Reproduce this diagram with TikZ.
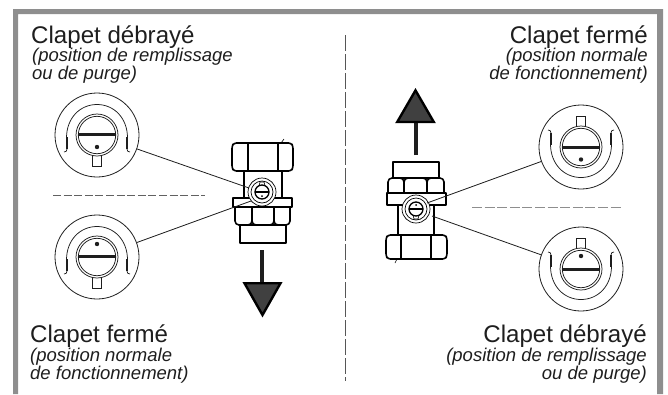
\documentclass[tikz,border=0pt]{standalone}
\usepackage{fontspec}
\setmainfont{Liberation Sans}
\definecolor{framegrey}{HTML}{8E8E8E}
\definecolor{inkc}{HTML}{1E1E1E}
\definecolor{headc}{HTML}{404040}
\tikzset{
  title/.style={inkc,inner sep=0pt,font=\fontsize{24.1}{24}\selectfont},
  sub/.style={inkc,inner sep=0pt,font=\fontsize{18.5}{18}\selectfont\itshape},
  thinl/.style={line width=0.75pt,inkc},
  thickl/.style={line width=1.6pt,black,line join=round},
  leader/.style={line width=0.8pt,inkc},
  sepline/.style={line width=1pt,color=#1},
  dialnode/.style={circle,draw=inkc,line width=0.8pt,minimum size=84pt,inner sep=0pt},
  arrowhead/.style={line width=2.4pt,black,fill=headc,line join=miter},
}
\newcommand{\dialshape}[4]{%
  \begin{scope}[shift={(#1,#2)},rotate=#3]
    \draw[thinl] (-30.5,3) .. controls (-30.5,-17) and (-17,-30.5) .. (0,-30.5)
                 .. controls (17,-30.5) and (30.5,-17) .. (30.5,3);
    \draw[line width=1.8pt,inkc] (-30,2) -- (-30,14);
    \draw[line width=1.8pt,inkc] (30,2) -- (30,14);
    \draw[thinl] (-30,14) .. controls (-30,16) and (-31,17) .. (-33,17);
    \draw[thinl] (30,14) .. controls (30,16) and (31,17) .. (33,17);
    \draw[thinl] (-4.5,20) rectangle (4.5,31);
    \fill[white] (0,0) circle[radius=21pt];
    \draw[thinl] (0,0) circle[radius=21pt];
    \draw[thinl] (0,0) circle[radius=18.7pt];
    \draw[line width=3pt,inkc] (-19,-0.5) -- (19,-0.5);
    \fill[inkc] (0,#4) circle[radius=2.2pt];
  \end{scope}}
\newcommand{\knobshape}[3]{%
  \begin{scope}[shift={(#1,#2)},rotate=#3]
    \fill[white] (0,0) circle[radius=14pt];
    \draw[line width=0.7pt] (0,0) circle[radius=14pt];
    \draw[line width=0.7pt] (0,0) circle[radius=11pt];
    \draw[line width=0.6pt] (-3,6) -- (-2,10) -- (2,10) -- (3,6);
    \draw[line width=1.3pt,fill=white] (0,0) circle[radius=7pt];
    \draw[line width=1.6pt] (-7,0) -- (7,0);
    \fill (0,-4) circle[radius=1pt];
  \end{scope}}
\begin{document}
\begin{tikzpicture}[x=1pt,y=-1pt]
\useasboundingbox (0,0) rectangle (668,394);
\fill[framegrey] (13,394) -- (13,9) -- (663,9) -- (663,394) -- (657,394) -- (657,14) -- (18,14) -- (18,394) -- cycle;

% separators
\draw[sepline=inkc!70!white,dash pattern=on 8pt off 2.6pt] (53,195) -- (205,195);
\draw[sepline=framegrey,dash pattern=on 10pt off 2.6pt] (472,207) -- (622,207);
\draw[line width=0.8pt,color=inkc!75!white,dash pattern=on 16pt off 3pt] (345,35) -- (345,381);

% dials
\node[dialnode] (dA) at (97,135) {};
\node[dialnode] (dB) at (97,257) {};
\node[dialnode] (dC) at (581,147) {};
\node[dialnode] (dD) at (581,269) {};
\dialshape{97}{135}{0}{12}
\dialshape{97}{257}{0}{-13}
\dialshape{581}{147}{180}{-12.5}
\dialshape{581}{269}{180}{13}

% left valve
\draw[thickl] (244,171) -- (244,198) (282,171) -- (282,198);
\draw[thickl,rounded corners=2.5pt,fill=white] (234,143) -- (291,143) -- (293,146) -- (293,168) -- (291,171) -- (234,171) -- (232,168) -- (232,146) -- cycle;
\draw[thickl] (248,143) -- (248,171) (278,143) -- (278,171);
\draw[line width=0.6pt] (281,143) -- (284,139);
\draw[thickl,fill=white] (240,225) rectangle (286,243);
\foreach \a/\b in {235/252,252/274,274/290}
  \draw[thickl,fill=white,rounded corners=4pt] (\a,207) -- (\a,225) -- (\b,225) -- (\b,207);
\draw[thickl,fill=white] (233,198) rectangle (292,207);
\knobshape{262}{192}{180}
\coordinate (kA) at (249,188);
\coordinate (kB) at (251,201);
\draw[leader] (dA) -- (kA);
\draw[leader] (dB) -- (kB);
% left arrow
\coordinate (aLs) at (262,250);
\coordinate (aLe) at (262,283);
\draw[line width=3.8pt,inkc] (aLs) -- (aLe);
\draw[arrowhead] (244.5,283.2) -- (280.5,283.2) -- (262.5,315) -- cycle;

% right valve
\draw[thickl] (398,205) -- (398,235) (434,205) -- (434,235);
\draw[thickl,rounded corners=2.5pt,fill=white] (388,235) -- (445,235) -- (447,238) -- (447,256) -- (445,259) -- (388,259) -- (386,256) -- (386,238) -- cycle;
\draw[thickl] (401,235) -- (401,259) (431,235) -- (431,259);
\draw[line width=0.6pt] (397,259) -- (395,263);
\draw[thickl,fill=white] (393,162) rectangle (439,178);
\foreach \a/\b in {388/404,404/427,427/444}
  \draw[thickl,fill=white,rounded corners=4pt] (\a,193) -- (\a,178) -- (\b,178) -- (\b,193);
\draw[thickl,fill=white] (387,193) rectangle (446,205);
\knobshape{416}{209}{0}
\coordinate (kC) at (427,203);
\coordinate (kD) at (432,216);
\draw[leader] (dC) -- (kC);
\draw[leader] (dD) -- (kD);
% right arrow
\coordinate (aRs) at (416,155);
\coordinate (aRe) at (416,123);
\draw[line width=3.8pt,inkc] (aRs) -- (aRe);
\draw[arrowhead] (397.2,122) -- (433.8,122) -- (415.5,90.4) -- cycle;

% texts
\node[title,anchor=base west] (t1) at (31,43) {Clapet débrayé};
\node[sub,anchor=base west] (t2) at (32,61) {(position de remplissage};
\node[sub,anchor=base west] (t3) at (32,79) {ou de purge)};
\node[title,anchor=base east] (t4) at (648,43) {Clapet fermé};
\node[sub,anchor=base east] (t5) at (648,61) {(position normale};
\node[sub,anchor=base east] (t6) at (648,79) {de fonctionnement)};
\node[title,anchor=base west] (t7) at (30,342) {Clapet fermé};
\node[sub,anchor=base west] (t8) at (30,361) {(position normale};
\node[sub,anchor=base west] (t9) at (30,379) {de fonctionnement)};
\node[title,anchor=base east] (t10) at (647,342) {Clapet débrayé};
\node[sub,anchor=base east] (t11) at (647,361) {(position de remplissage};
\node[sub,anchor=base east] (t12) at (647,379) {ou de purge)};
\end{tikzpicture}
\end{document}
